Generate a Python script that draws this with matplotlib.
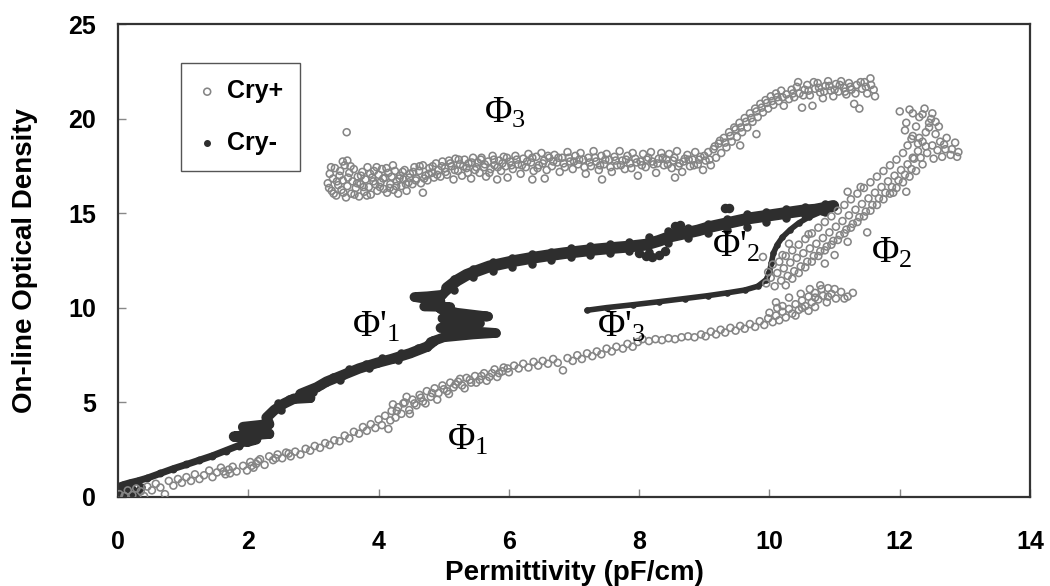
import numpy as np
import matplotlib
matplotlib.use("Agg")
import matplotlib.pyplot as plt

plt.rcParams['font.family'] = ['Liberation Sans', 'DejaVu Sans']
plt.rcParams['mathtext.fontset'] = 'custom'
plt.rcParams['mathtext.rm'] = 'Liberation Serif'
plt.rcParams['mathtext.it'] = 'Liberation Serif:italic'
plt.rcParams['mathtext.bf'] = 'Liberation Serif:bold'

# ---------------- data ----------------
x_ticks = [0, 2, 4, 6, 8, 10, 12, 14]
y_ticks = [0, 5, 10, 15, 20, 25]
x_label = "Permittivity (pF/cm)"
y_label = "On-line Optical Density"
series_names = ["Cry+", "Cry-"]

# Cry+ : lower branch (Phi1)
cry_plus_phi1 = [
    (0.02, 0.15), (0.10, 0.05), (0.15, 0.35), (0.22, 0.10), (0.28, 0.45), (0.35, 0.30),
    (0.40, 0.05), (0.45, 0.55), (0.52, 0.35), (0.58, 0.70), (0.65, 0.50), (0.72, 0.15),
    (0.78, 0.85), (0.85, 0.60), (0.92, 0.95), (0.98, 0.75), (1.05, 1.05), (1.12, 0.85),
    (1.18, 1.20), (1.25, 0.95), (1.32, 1.15), (1.40, 1.40), (1.45, 1.05), (1.52, 1.30),
    (1.58, 1.55), (1.65, 1.20), (1.70, 1.45), (1.76, 1.60), (1.82, 1.35), (1.92, 1.65),
    (1.98, 1.40), (2.03, 1.85), (2.08, 1.55), (2.12, 1.75), (2.18, 2.00), (2.25, 1.70),
    (2.32, 2.15), (2.38, 1.95), (2.45, 2.25), (2.52, 2.05), (2.58, 2.35), (2.65, 2.15),
    (2.72, 2.40), (2.80, 2.25), (2.88, 2.55), (2.95, 2.45), (3.02, 2.70), (3.10, 2.60),
    (3.18, 2.85), (3.25, 2.75), (3.32, 3.00), (3.40, 2.95), (3.48, 3.25), (3.55, 3.10),
    (3.62, 3.45), (3.70, 3.35), (3.76, 3.70), (3.82, 3.50), (3.88, 3.85), (3.95, 3.65),
    (4.00, 4.10), (4.05, 3.80), (4.10, 4.30), (4.15, 3.60), (4.20, 4.55), (4.22, 4.90),
    (4.26, 4.20), (4.30, 4.75), (4.35, 4.40), (4.40, 5.00), (4.43, 5.30), (4.47, 4.60),
    (4.52, 5.15), (4.58, 4.85), (4.63, 5.40), (4.68, 5.05), (4.74, 5.60), (4.80, 5.30),
    (4.86, 5.75), (4.92, 5.50), (4.98, 5.90), (5.05, 5.60), (5.10, 6.05), (5.15, 5.80),
    (5.22, 6.10), (5.28, 5.90), (5.35, 6.30), (5.42, 6.05), (5.48, 6.40), (5.55, 6.20),
    (5.62, 6.55), (5.70, 6.35), (5.78, 6.75), (5.85, 6.55), (5.92, 6.85), (6.00, 6.60),
    (6.08, 6.95), (6.15, 6.80), (6.22, 7.05), (6.30, 6.85), (6.38, 7.15), (6.45, 6.95),
    (6.52, 7.20), (6.60, 7.05), (6.68, 7.30), (6.75, 7.10), (6.83, 6.70), (6.90, 7.35),
    (6.98, 7.20), (7.05, 7.50), (7.12, 7.30), (7.20, 7.60), (7.28, 7.45), (7.35, 7.70),
    (7.42, 7.55), (7.50, 7.85), (7.58, 7.70), (7.65, 7.95), (7.75, 7.85), (7.82, 8.10),
    (7.90, 7.95), (7.98, 8.20), (8.05, 8.35), (8.15, 8.25), (8.25, 8.35), (8.35, 8.30),
    (8.45, 8.40), (8.55, 8.35), (8.65, 8.45), (8.75, 8.50), (8.85, 8.45), (8.95, 8.60),
    (9.02, 8.50), (9.10, 8.75), (9.18, 8.60), (9.25, 8.85), (9.32, 8.70), (9.40, 8.95),
    (9.48, 8.80), (9.55, 9.05), (9.62, 8.90), (9.70, 9.15), (9.78, 9.00), (9.85, 9.30),
    (9.92, 9.10), (9.98, 9.45), (10.05, 9.25), (10.10, 9.60), (10.15, 9.35), (10.20, 9.80),
    (10.25, 9.50), (10.30, 9.95), (10.12, 10.00), (10.35, 9.70), (10.40, 10.20), (10.45, 9.90),
    (10.50, 10.40), (10.55, 10.10), (10.60, 10.60), (10.65, 10.30), (10.70, 10.80), (10.75, 10.45),
    (10.82, 10.65), (10.88, 10.30), (10.95, 10.75), (11.02, 10.50), (11.10, 10.85), (11.20, 10.60),
    (11.28, 10.80), (10.62, 11.00), (10.78, 11.20), (10.90, 11.05), (10.48, 10.75), (10.70, 10.05),
]
cry_plus_phi1_extra = [
    (4.18, 4.05), (4.28, 4.55), (4.38, 4.95), (4.48, 4.40), (4.55, 4.95), (4.65, 5.25),
    (4.72, 4.95), (4.82, 5.50), (4.90, 5.15), (5.00, 5.70), (5.08, 5.45), (5.18, 5.95),
    (5.25, 6.25), (5.32, 5.75), (5.40, 6.20), (5.50, 6.05), (5.58, 6.40), (5.66, 6.15),
    (5.74, 6.55), (5.82, 6.35), (5.90, 6.65), (5.98, 6.80), (10.00, 9.75), (10.10, 10.30),
    (10.20, 10.10), (10.30, 10.55), (10.40, 9.60), (10.50, 10.00), (10.60, 9.85), (10.70, 10.55),
    (10.80, 11.00), (10.90, 10.60), (11.00, 11.00), (11.15, 10.50), (1.62, 1.35), (1.72, 1.25),
    (2.05, 1.65), (2.15, 1.90), (2.42, 2.05), (2.62, 2.30),
]

# Cry+ : rising right branch and top-right loop (Phi2)
cry_plus_phi2 = [
    (9.95, 11.30), (10.02, 11.60), (10.08, 11.15), (10.12, 11.85), (10.18, 11.45), (10.22, 12.10),
    (10.28, 11.70), (10.32, 12.40), (10.38, 11.95), (10.42, 12.65), (10.48, 12.20), (10.52, 12.90),
    (10.58, 12.45), (10.62, 13.15), (10.68, 12.75), (10.72, 13.40), (10.78, 13.00), (10.82, 13.70),
    (10.88, 13.25), (10.92, 14.00), (10.98, 13.55), (11.02, 14.30), (11.08, 13.85), (11.12, 14.60),
    (11.18, 14.15), (11.22, 14.90), (11.28, 14.45), (11.32, 15.20), (11.38, 14.80), (11.42, 15.50),
    (11.48, 15.10), (11.52, 15.80), (11.58, 15.45), (11.62, 16.10), (11.68, 15.80), (11.72, 16.40),
    (11.78, 16.10), (11.82, 16.70), (11.88, 16.40), (11.92, 17.00), (11.98, 16.75), (12.02, 17.30),
    (12.08, 17.05), (12.12, 17.60), (12.18, 17.35), (12.22, 17.90), (12.05, 18.20), (12.28, 18.30),
    (12.12, 18.60), (12.35, 18.80), (12.20, 19.10), (12.40, 19.30), (12.25, 19.60), (12.45, 19.80),
    (12.30, 20.10), (12.50, 20.30), (12.15, 20.50), (12.38, 20.55), (12.00, 20.40), (12.55, 19.20),
    (12.62, 18.80), (12.70, 18.40), (12.78, 18.10), (12.88, 18.00), (12.60, 19.60), (12.50, 18.60),
    (12.42, 18.20), (12.35, 17.60), (12.65, 18.00), (12.72, 19.00), (12.30, 19.00), (12.48, 20.00),
    (10.30, 13.40), (10.60, 13.90), (9.90, 12.70), (11.20, 13.50), (11.00, 12.80), (11.50, 14.00),
    (11.90, 16.10), (12.10, 16.15), (11.20, 16.15), (10.20, 12.80), (10.85, 12.35), (11.40, 16.40),
]
cry_plus_phi2_extra = [
    (9.98, 11.90), (10.05, 12.30), (10.15, 12.45), (10.25, 12.75), (10.35, 13.05), (10.45, 13.35),
    (10.55, 13.65), (10.65, 13.95), (10.75, 14.25), (10.85, 14.55), (10.95, 14.85), (11.05, 15.15),
    (11.15, 15.45), (11.25, 15.75), (11.35, 16.05), (11.45, 16.35), (11.55, 16.65), (11.65, 16.95),
    (11.75, 17.25), (11.85, 17.55), (11.95, 17.85), (10.25, 11.20), (10.35, 11.55), (10.45, 11.85),
    (10.55, 12.15), (10.65, 12.45), (10.75, 12.75), (10.85, 13.05), (10.95, 13.35), (11.05, 13.60),
    (11.15, 13.95), (11.25, 14.25), (11.35, 14.55), (11.45, 14.85), (11.55, 15.15), (11.65, 15.45),
    (11.75, 15.75), (11.85, 16.05), (11.95, 16.35), (12.05, 16.65), (12.15, 16.95), (12.25, 17.25),
    (12.32, 17.95), (12.10, 19.80), (12.20, 20.30), (12.35, 20.25), (12.45, 19.55), (12.55, 19.85),
    (12.40, 18.55), (12.28, 18.70), (12.18, 18.95), (12.58, 18.35), (12.68, 18.65), (12.80, 18.40),
    (12.90, 18.25), (12.85, 18.75), (12.20, 17.95), (12.08, 19.40), (12.52, 17.90),
]

# Cry+ : upper branch (Phi3)
cry_plus_phi3 = [
    (3.22, 16.60), (3.25, 17.10), (3.28, 16.20), (3.30, 16.85), (3.33, 17.40), (3.35, 15.95),
    (3.38, 16.50), (3.40, 17.00), (3.43, 16.25), (3.45, 16.75), (3.48, 17.55), (3.50, 15.85),
    (3.52, 16.45), (3.55, 17.15), (3.58, 16.05), (3.60, 16.70), (3.62, 17.35), (3.65, 16.35),
    (3.68, 16.95), (3.70, 15.90), (3.72, 16.55), (3.75, 17.20), (3.78, 16.15), (3.80, 16.80),
    (3.83, 17.45), (3.85, 16.40), (3.88, 16.00), (3.90, 16.90), (3.93, 17.25), (3.95, 16.55),
    (3.98, 16.20), (4.00, 17.05), (4.03, 16.65), (4.05, 17.35), (4.08, 16.30), (4.10, 16.90),
    (4.13, 16.10), (4.15, 17.15), (4.18, 16.55), (4.20, 16.95), (4.23, 16.25), (4.25, 17.25),
    (4.28, 16.70), (4.30, 16.05), (4.33, 17.00), (4.35, 16.45), (4.38, 16.80), (4.40, 17.30),
    (4.43, 16.20), (4.46, 16.65), (4.68, 16.10), (3.51, 19.30), (3.45, 17.75), (3.52, 17.80),
    (4.48, 17.10), (4.52, 16.55), (4.55, 17.45), (4.58, 16.85), (4.62, 17.25), (4.65, 16.60),
    (4.68, 17.55), (4.72, 17.00), (4.75, 16.75), (4.78, 17.40), (4.82, 17.15), (4.85, 16.90),
    (4.88, 17.65), (4.92, 17.30), (4.95, 16.95), (4.98, 17.75), (5.02, 17.40), (5.05, 17.05),
    (5.08, 17.80), (5.12, 17.50), (5.15, 16.80), (5.18, 17.90), (5.22, 17.25), (5.25, 17.60),
    (5.28, 17.00), (5.32, 17.85), (5.35, 17.40), (5.38, 17.65), (5.42, 16.85), (5.45, 17.95),
    (5.48, 17.30), (5.52, 17.70), (5.55, 17.15), (5.58, 17.95), (5.62, 17.45), (5.65, 16.95),
    (5.68, 17.75), (5.72, 17.35), (5.75, 18.05), (5.78, 17.55), (5.82, 16.80), (5.85, 17.80),
    (5.88, 17.25), (5.92, 18.00), (5.95, 17.50), (5.98, 16.90),
    (6.02, 17.75), (6.06, 17.35), (6.10, 18.05), (6.14, 17.60), (6.18, 17.10), (6.22, 17.90),
    (6.26, 17.45), (6.30, 18.15), (6.34, 17.70), (6.38, 17.25), (6.42, 18.00), (6.46, 17.55),
    (6.50, 18.20), (6.54, 17.80), (6.58, 17.30), (6.62, 17.95), (6.66, 17.50), (6.70, 18.10),
    (6.74, 17.70), (6.78, 17.20), (6.82, 17.95), (6.86, 17.45), (6.90, 18.25), (6.94, 17.75),
    (6.98, 17.35), (7.02, 18.05), (7.06, 17.60), (7.10, 18.20), (7.14, 17.85), (7.18, 17.10),
    (7.22, 17.95), (7.26, 17.50), (7.30, 18.30), (7.34, 17.75), (7.38, 17.30), (7.42, 18.05),
    (7.46, 17.60), (7.50, 18.15), (7.54, 17.85), (7.58, 17.20), (7.62, 18.00), (7.66, 17.55),
    (7.70, 18.30), (7.74, 17.80), (7.78, 17.35), (7.82, 18.05), (7.86, 17.65), (7.90, 18.20),
    (7.94, 17.90), (7.98, 17.00), (8.02, 17.75), (8.06, 18.15), (8.10, 17.45), (8.14, 17.95),
    (8.18, 18.25), (8.22, 17.60), (8.26, 17.15), (8.30, 17.90), (8.34, 18.20), (8.38, 17.55),
    (8.42, 17.85), (8.46, 18.15), (8.50, 17.40), (8.54, 17.95), (8.58, 18.30), (8.62, 17.65),
    (8.66, 17.20), (8.70, 17.90), (8.74, 18.10), (8.78, 17.50), (8.82, 17.85), (8.86, 18.25),
    (8.90, 17.60), (8.94, 18.00), (8.98, 17.30), (9.02, 17.80), (9.06, 18.25),
    (6.36, 16.80), (6.55, 16.85), (7.43, 16.80), (8.55, 16.90),
    (9.10, 17.55), (9.14, 18.40), (9.18, 17.95), (9.22, 18.70), (9.26, 18.20), (9.30, 19.00),
    (9.34, 18.50), (9.38, 19.30), (9.42, 18.80), (9.46, 19.55), (9.50, 19.05), (9.54, 19.80),
    (9.58, 19.30), (9.62, 20.05), (9.66, 19.55), (9.70, 20.30), (9.74, 19.85), (9.78, 20.55),
    (9.82, 20.10), (9.86, 20.80), (9.90, 20.35), (9.94, 21.00), (9.98, 20.55), (10.02, 21.20),
    (10.06, 20.75), (10.10, 21.35), (10.14, 20.95), (10.18, 21.50), (10.22, 20.70), (10.26, 21.30),
    (10.30, 21.05), (9.55, 18.60), (9.80, 19.20),
    (10.34, 21.55), (10.38, 21.15), (10.42, 21.70), (10.46, 21.35), (10.50, 20.60), (10.54, 21.55),
    (10.58, 21.80), (10.62, 21.25), (10.66, 20.70), (10.70, 21.60), (10.74, 21.90), (10.78, 21.40),
    (10.82, 21.10), (10.86, 21.75), (10.90, 22.00), (10.94, 21.50), (10.98, 21.20), (11.02, 21.85),
    (11.06, 21.45), (11.10, 22.00), (11.14, 21.65), (11.18, 21.30), (11.22, 21.90), (11.26, 21.55),
    (11.30, 20.80), (11.34, 21.80), (11.38, 20.55), (11.42, 21.60), (11.46, 21.95), (11.50, 21.35),
    (11.55, 22.15), (11.60, 21.55), (11.62, 21.20),
]
cry_plus_phi3_extra = [
    (3.24, 16.35), (3.27, 17.45), (3.31, 16.05), (3.36, 16.70), (3.41, 17.25), (3.46, 16.10),
    (3.53, 16.90), (3.57, 17.50), (3.63, 16.00), (3.67, 16.60), (3.73, 17.00), (3.77, 16.40),
    (3.82, 15.95), (3.87, 17.10), (3.92, 16.70), (3.97, 17.45), (4.02, 16.40), (4.07, 16.85),
    (4.12, 17.40), (4.17, 16.35), (4.22, 17.55), (4.27, 16.45), (4.32, 16.85), (4.37, 17.20),
    (4.42, 16.55), (4.47, 16.90), (4.53, 17.20), (4.57, 16.75), (4.63, 17.50), (4.70, 16.85),
    (4.77, 17.10), (4.83, 17.50), (4.90, 17.05), (4.97, 17.50), (5.03, 17.20), (5.10, 17.65),
    (5.17, 17.30), (5.23, 17.85), (5.30, 17.50), (5.37, 17.15), (5.43, 17.70), (5.50, 17.45),
    (5.57, 17.85), (5.63, 17.60), (5.70, 17.15), (5.77, 17.85), (5.83, 17.45), (5.90, 17.65),
    (5.97, 17.95), (6.04, 17.55), (6.12, 17.85), (6.20, 17.55), (6.28, 17.75), (6.36, 17.95),
    (6.44, 17.40), (6.52, 17.65), (6.60, 18.05), (6.68, 17.75), (6.76, 17.95), (6.84, 17.65),
    (6.92, 17.95), (7.00, 17.75), (7.08, 17.85), (7.16, 17.45), (7.24, 17.70), (7.32, 17.95),
    (7.40, 17.55), (7.48, 17.85), (7.56, 17.45), (7.64, 17.80), (7.72, 17.55), (7.80, 17.85),
    (7.88, 17.40), (7.96, 17.70), (8.04, 17.55), (8.12, 17.85), (8.20, 17.75), (8.28, 17.65),
    (8.36, 17.95), (8.44, 17.60), (8.52, 17.80), (8.60, 17.50), (8.68, 17.75), (8.76, 17.85),
    (8.84, 17.55), (8.92, 17.85), (9.00, 18.05), (9.08, 17.85), (9.16, 18.55), (9.24, 18.85),
    (9.32, 18.75), (9.40, 19.10), (9.48, 19.45), (9.56, 19.55), (9.64, 19.85), (9.72, 20.05),
    (9.80, 20.40), (9.88, 20.60), (9.96, 20.85), (10.04, 20.95), (10.12, 21.15), (10.20, 21.15),
    (10.36, 21.35), (10.44, 21.95), (10.52, 21.25), (10.60, 21.50), (10.68, 21.95), (10.76, 21.65),
    (10.84, 21.45), (10.92, 21.75), (11.00, 21.55), (11.08, 21.80), (11.16, 21.45), (11.24, 21.70),
    (11.32, 21.35), (11.40, 21.95), (11.48, 21.70), (11.56, 21.80),
]

# Cry- : near origin, lower branch, zig-zag, upper branch (Phi'1, Phi'2), return (Phi'3)
cry_minus_origin_x = [0.02, 0.08, 0.15, 0.22, 0.30, 0.05, 0.12, 0.25, 0.35]
cry_minus_origin_y = [0.10, 0.35, 0.20, 0.40, 0.30, 0.05, 0.50, 0.15, 0.55]

cry_minus_low_x = [0.00, 0.08, 0.18, 0.30, 0.45, 0.65, 0.85, 1.05, 1.25, 1.45, 1.65, 1.85, 1.98]
cry_minus_low_y = [0.55, 0.65, 0.75, 0.85, 1.00, 1.25, 1.50, 1.72, 1.95, 2.18, 2.45, 2.72, 2.92]

cry_minus_rise_x = [1.98, 2.12, 1.78, 2.32, 2.20, 1.92, 2.32, 2.28, 2.40, 2.55, 2.70, 2.95, 2.80,
                    3.05, 3.20, 3.45, 3.70, 3.98, 4.20, 4.48, 4.74, 4.85]
cry_minus_rise_y = [2.92, 3.05, 3.20, 3.35, 3.55, 3.70, 3.85, 4.20, 4.60, 4.95, 5.20, 5.25, 5.45,
                    5.80, 6.10, 6.45, 6.80, 7.10, 7.30, 7.60, 7.95, 8.25]
cry_minus_rise_edge_x = [2.45, 2.62, 2.85, 3.12, 3.30, 3.55, 3.80, 4.05, 4.35, 4.60, 2.50, 3.00,
                         3.40, 3.85, 4.30]
cry_minus_rise_edge_y = [4.95, 5.20, 5.55, 5.95, 6.35, 6.75, 7.05, 7.35, 7.60, 7.90, 4.60, 5.55,
                         6.20, 6.85, 7.25]

cry_minus_zig_x = [4.80, 5.00, 5.45, 5.80, 5.30, 4.95, 5.25, 5.55, 5.20, 4.98, 5.40, 5.68, 5.20,
                   4.95, 5.10, 4.70, 4.95, 4.55, 4.75, 4.98, 5.05]
cry_minus_zig_y = [8.20, 8.45, 8.60, 8.68, 8.80, 8.95, 9.15, 9.20, 9.30, 9.45, 9.50, 9.55, 9.75,
                   9.95, 10.05, 10.08, 10.35, 10.58, 10.62, 10.70, 10.95]

cry_minus_up_x = [5.05, 5.20, 5.35, 5.50, 5.70, 5.90, 6.10, 6.35, 6.60, 6.85, 7.10, 7.35, 7.60,
                  7.85, 8.10, 8.30, 8.50, 8.70, 8.90, 9.10, 9.30, 9.50, 9.70, 9.90, 10.10, 10.30,
                  10.50, 10.70, 10.85, 10.98]
cry_minus_up_y = [11.05, 11.45, 11.75, 11.95, 12.20, 12.35, 12.50, 12.65, 12.78, 12.90, 13.00, 13.10,
                  13.18, 13.25, 13.35, 13.55, 13.80, 13.95, 14.10, 14.30, 14.45, 14.60, 14.75, 14.85,
                  14.95, 15.05, 15.15, 15.20, 15.30, 15.40]
cry_minus_up_edge_x = [5.15, 5.45, 5.75, 6.05, 6.35, 6.65, 6.95, 7.25, 7.55, 7.85, 8.15, 8.45, 8.75,
                       9.05, 9.35, 9.65, 9.95, 10.25, 10.55, 10.85,
                       5.15, 5.45, 5.75, 6.05, 6.35, 6.65, 6.95, 7.25, 7.55, 7.85, 8.15, 8.45, 8.75,
                       9.05, 9.35, 9.65, 9.95, 10.25, 10.55, 10.85]
cry_minus_up_edge_y = [11.55, 12.05, 12.45, 12.65, 12.85, 12.98, 13.15, 13.30, 13.40, 13.50, 13.75,
                       14.05, 14.25, 14.45, 14.70, 14.95, 15.10, 15.25, 15.35, 15.50,
                       10.95, 11.65, 11.95, 12.15, 12.35, 12.55, 12.70, 12.80, 12.90, 13.00, 12.95,
                       13.45, 13.70, 13.95, 14.15, 14.30, 14.55, 14.75, 14.90, 15.10]
cry_minus_blob_x = [8.00, 8.10, 8.20, 8.30, 8.40, 8.55, 8.62, 9.32, 9.38]
cry_minus_blob_y = [12.90, 12.75, 12.70, 12.80, 13.00, 14.35, 14.40, 15.30, 15.28]

cry_minus_back_x = [10.98, 10.80, 10.60, 10.45, 10.32, 10.20, 10.12, 10.06, 10.03, 10.00, 9.95,
                    9.82, 9.62, 9.35, 9.05, 8.70, 8.30, 7.90, 7.50, 7.20]
cry_minus_back_y = [15.40, 15.10, 14.80, 14.50, 14.15, 13.75, 13.35, 12.90, 12.40, 11.90, 11.50,
                    11.15, 10.95, 10.80, 10.65, 10.50, 10.33, 10.17, 10.02, 9.88]

# phase labels: (text, x, y)
phase_labels = [
    ("\u03a6$_3$", 5.94, 20.3),
    ("\u03a6$_2$", 11.87, 12.9),
    ("\u03a6'$_2$", 9.49, 13.2),
    ("\u03a6'$_1$", 3.96, 9.0),
    ("\u03a6'$_3$", 7.72, 9.0),
    ("\u03a6$_1$", 5.36, 3.0),
]

# ---------------- drawing ----------------
fig = plt.figure(figsize=(10.5, 5.86), dpi=100)
ax = fig.add_axes([0.1124, 0.1519, 0.8686, 0.8063])

dark = "#2e2e2e"
grey = "#858585"

# Cry- segments: thick line through the points plus the points themselves
segments = [
    (cry_minus_origin_x, cry_minus_origin_y, 0, 26),
    (cry_minus_low_x, cry_minus_low_y, 5.0, 22),
    (cry_minus_rise_x, cry_minus_rise_y, 7.5, 30),
    (cry_minus_zig_x, cry_minus_zig_y, 7.0, 26),
    (cry_minus_up_x, cry_minus_up_y, 8.5, 26),
    (cry_minus_back_x, cry_minus_back_y, 4.0, 14),
]
for sx, sy, lw, ms in segments:
    if lw > 0:
        ax.plot(sx, sy, '-', color=dark, lw=lw, solid_capstyle='round',
                solid_joinstyle='round', zorder=2)
    ax.scatter(sx, sy, s=ms, color=dark, edgecolors=dark, zorder=2)
ax.scatter(cry_minus_rise_edge_x, cry_minus_rise_edge_y, s=26, color=dark, zorder=2)
ax.scatter(cry_minus_up_edge_x, cry_minus_up_edge_y, s=26, color=dark, zorder=2)
ax.scatter(cry_minus_blob_x, cry_minus_blob_y, s=34, color=dark, zorder=2)

plus = np.array(cry_plus_phi1 + cry_plus_phi1_extra + cry_plus_phi2 + cry_plus_phi2_extra
                + cry_plus_phi3 + cry_plus_phi3_extra)
h_plus = ax.scatter(plus[:, 0], plus[:, 1], s=25, facecolors='none', edgecolors=grey,
                    linewidths=1.15, zorder=3, label=series_names[0])
h_minus = ax.scatter([], [], s=16, color=dark, label=series_names[1])

for txt, tx, ty in phase_labels:
    ax.text(tx, ty, txt, fontsize=27, family='Liberation Serif', ha='center', va='center',
            color='black', zorder=5)

ax.set_xlim(0, 14)
ax.set_ylim(0, 25)
ax.set_xticks(x_ticks)
ax.set_yticks(y_ticks)
ax.tick_params(direction='in', length=6, width=1, color='#888888', labelsize=18,
               top=False, right=False)
ax.tick_params(axis='x', pad=24)
ax.tick_params(axis='y', pad=16)
for lbl in ax.get_xticklabels() + ax.get_yticklabels():
    lbl.set_fontweight('bold')
for sp in ax.spines.values():
    sp.set_color('#333333')
    sp.set_linewidth(1.6)

ax.set_xlabel(x_label, fontsize=20, fontweight='bold')
ax.set_ylabel(y_label, fontsize=20, fontweight='bold')
ax.xaxis.set_label_coords(0.5, -0.133)
ax.yaxis.set_label_coords(-0.088, 0.5)

leg = ax.legend(handles=[h_plus, h_minus], loc='upper left',
                bbox_to_anchor=(0.069, 0.9185), borderaxespad=0,
                prop={'weight': 'bold', 'size': 18}, fancybox=False, framealpha=1,
                edgecolor='#555555', handlelength=0.8, handletextpad=0.4,
                labelspacing=1.1, borderpad=0.65, scatterpoints=1)
leg.get_frame().set_linewidth(1.0)

fig.savefig("out.png", dpi=100)
